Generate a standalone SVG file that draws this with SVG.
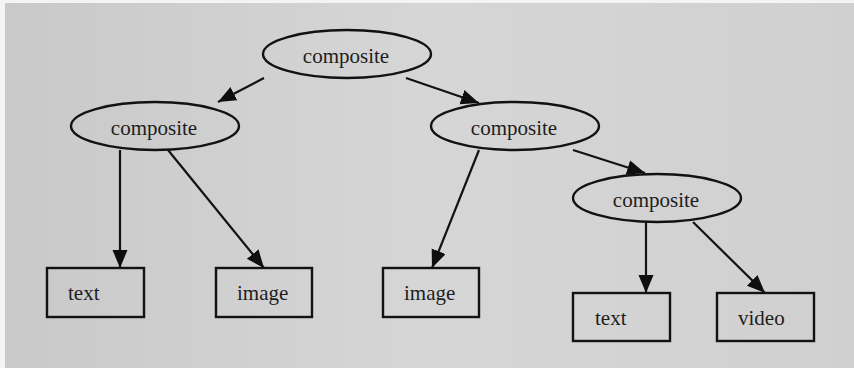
<svg xmlns="http://www.w3.org/2000/svg" width="854" height="368" viewBox="0 0 854 368">
<defs>
<linearGradient id="bg" x1="0" y1="0" x2="1" y2="0">
<stop offset="0" stop-color="#c9c9c9"/>
<stop offset="0.5" stop-color="#d6d6d6"/>
<stop offset="1" stop-color="#d0d0d0"/>
</linearGradient>
<marker id="ah" markerUnits="userSpaceOnUse" markerWidth="19" markerHeight="16" refX="18" refY="7.5" orient="auto">
<path d="M0,0 L18,7.5 L0,15 z" fill="#0e0e0e"/>
</marker>
<style>
.n ellipse,.n rect{fill:none;stroke:#121212;stroke-width:2.4}
.n text{font-family:"Liberation Serif","Times New Roman",serif;font-size:21px;fill:#1e1e1e}
.e line{stroke:#121212;stroke-width:2.2;marker-end:url(#ah)}
</style>
</defs>
<rect x="0" y="0" width="854" height="368" fill="#f4f4f4"/>
<rect x="5" y="3" width="849" height="365" fill="url(#bg)"/>
<g id="edges" class="e">
<line x1="264" y1="78" x2="218" y2="102"/>
<line x1="406" y1="78" x2="479" y2="103"/>
<line x1="120" y1="150" x2="120" y2="268"/>
<line x1="168" y1="150" x2="264" y2="268"/>
<line x1="479" y1="150" x2="432" y2="268"/>
<line x1="573" y1="150" x2="645" y2="173"/>
<line x1="646" y1="222" x2="646" y2="293"/>
<line x1="693" y1="222" x2="765" y2="293"/>
</g>
<g id="root" class="n"><ellipse cx="347" cy="54" rx="84" ry="24"/><text x="346" y="63" text-anchor="middle">composite</text></g>
<g id="compositeL" class="n"><ellipse cx="155" cy="126" rx="84" ry="24"/><text x="154" y="135" text-anchor="middle">composite</text></g>
<g id="compositeR" class="n"><ellipse cx="515" cy="126" rx="84" ry="24"/><text x="514" y="135" text-anchor="middle">composite</text></g>
<g id="compositeRR" class="n"><ellipse cx="657" cy="198" rx="84" ry="24"/><text x="656" y="207" text-anchor="middle">composite</text></g>
<g id="text1" class="n"><rect x="47" y="268" width="97" height="49"/><text x="68" y="300">text</text></g>
<g id="image1" class="n"><rect x="216" y="268" width="96" height="49"/><text x="237" y="300">image</text></g>
<g id="image2" class="n"><rect x="383" y="268" width="96" height="49"/><text x="404" y="300">image</text></g>
<g id="text2" class="n"><rect x="573" y="293" width="97" height="48"/><text x="595" y="325">text</text></g>
<g id="video" class="n"><rect x="717" y="293" width="97" height="48"/><text x="738" y="325">video</text></g>
</svg>
